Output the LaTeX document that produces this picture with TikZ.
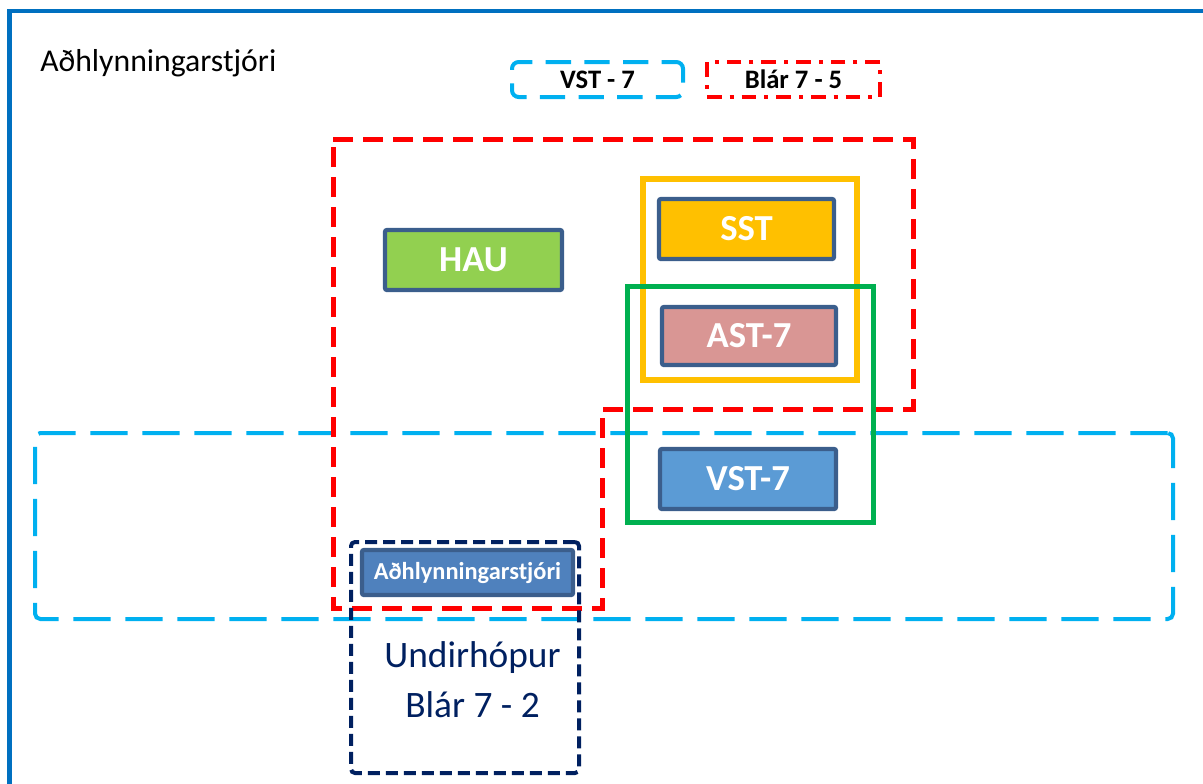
\documentclass[tikz,border=0pt]{standalone}
\usepackage{fontspec}
\setmainfont{Carlito}
\definecolor{frameblue}{HTML}{0070C0}
\definecolor{redc}{HTML}{FF0000}
\definecolor{lblue}{HTML}{00B0F0}
\definecolor{navy}{HTML}{002060}
\definecolor{yel}{HTML}{FFC000}
\definecolor{grn}{HTML}{00B050}
\definecolor{nborder}{HTML}{3B5E8C}
\definecolor{haufill}{HTML}{92D050}
\definecolor{astfill}{HTML}{D99694}
\definecolor{vstfill}{HTML}{5B9BD5}
\definecolor{adhfill}{HTML}{4F81BD}
\begin{document}
\begin{tikzpicture}[x=0.75pt,y=-0.75pt,
  member/.style={draw=nborder,line width=3.2pt,rounded corners=1.5pt,inner sep=0pt,
    text=white,font=\fontsize{27.5}{30}\selectfont\bfseries},
  frame/.style={draw,inner sep=0pt},
  legendtext/.style={font=\fontsize{20}{22}\selectfont\bfseries,text=black},
  sublabel/.style={text=navy,font=\fontsize{28}{30}\selectfont,anchor=base,inner sep=0pt}
]
\useasboundingbox (0,0) rectangle (1203,783);
% outer frame (extends beyond page)
\draw[frameblue,line width=3.5pt] (9.5,790) -- (9.5,11) -- (1210,11);
\node[anchor=base west,inner sep=0pt,font=\fontsize{23.8}{26}\selectfont] (title) at (40,71) {Aðhlynningarstjóri};

% legend
\node[frame,draw=lblue,line width=3pt,dash pattern=on 19pt off 10pt,dash phase=8pt,rounded corners=5pt,
  minimum width=171*0.75pt,minimum height=35*0.75pt,legendtext] (legvst) at (597.5,79.5) {VST - 7};
\node[frame,draw=redc,line width=3pt,dash pattern=on 11pt off 6pt on 3pt off 6pt,
  minimum width=173*0.75pt,minimum height=35*0.75pt,legendtext] (legblar) at (793.5,79.5) {Blár 7 - 5};

% light-blue dashed (VST-7)
\node[frame,draw=lblue,line width=3pt,dash pattern=on 28pt off 11pt,rounded corners=4pt,
  minimum width=1138*0.75pt,minimum height=186*0.75pt] (vstgroup) at (604,526) {};

% red dashed polygon (Blár 7-5)
\draw[redc,line width=3.75pt,dash pattern=on 15pt off 7.5pt]
  (333,139) coordinate (r1) -- (913,139) -- (913,409) -- (602,409) -- (602,608) -- (333,608) -- cycle;

% yellow
\node[frame,draw=yel,line width=4.5pt,minimum width=214*0.75pt,minimum height=201*0.75pt] (sstgroup) at (750,279.5) {};
% green
\node[frame,draw=grn,line width=3.75pt,minimum width=246*0.75pt,minimum height=236*0.75pt] (astgroup) at (750.5,404.5) {};

% navy dashed
\node[frame,draw=navy,line width=3pt,dash pattern=on 9pt off 4.5pt,rounded corners=3pt,
  minimum width=228*0.75pt,minimum height=231*0.75pt] (subgroup) at (465,657.5) {};

% members
\node[member,fill=haufill,minimum width=177*0.75pt,minimum height=60*0.75pt] (hau) at (473.5,260) {HAU};
\node[member,fill=yel,minimum width=175*0.75pt,minimum height=60*0.75pt] (sst) at (746.5,229) {SST};
\node[member,fill=astfill,minimum width=174*0.75pt,minimum height=58*0.75pt] (ast) at (749,336) {AST-7};
\node[member,fill=vstfill,minimum width=176*0.75pt,minimum height=60*0.75pt] (vst) at (748,479) {VST-7};
\node[member,fill=adhfill,minimum width=211*0.75pt,minimum height=45*0.75pt,
  font=\fontsize{18.3}{20}\selectfont\bfseries] (adh) at (467.5,572.5) {Aðhlynningarstjóri};

\node[sublabel] (sub1) at (472.5,667) {Undirhópur};
\node[sublabel] (sub2) at (472.5,717) {Blár 7 - 2};
\end{tikzpicture}
\end{document}
